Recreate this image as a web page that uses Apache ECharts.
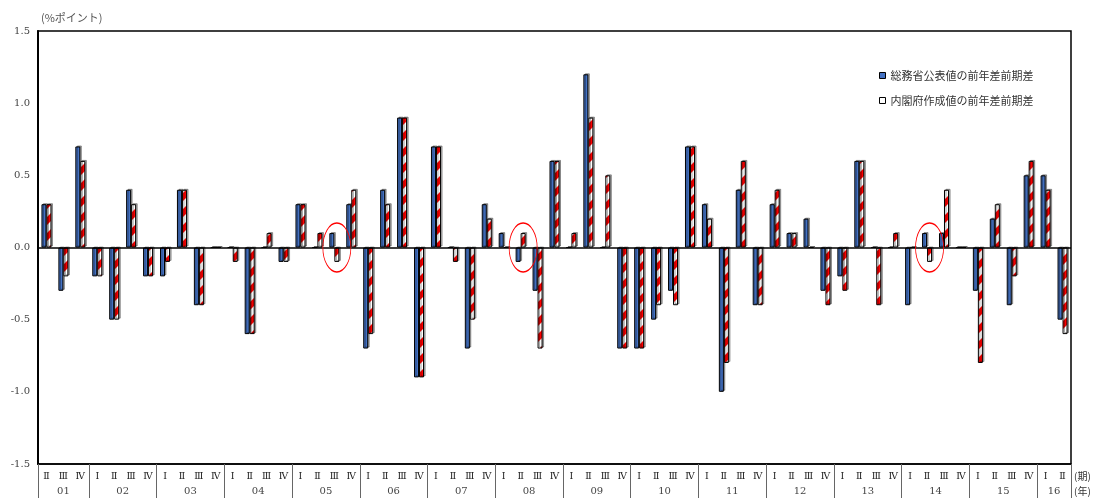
<!DOCTYPE html>
<html>
<head>
<meta charset="utf-8">
<script src="https://cdn.jsdelivr.net/npm/echarts@6/dist/echarts.min.js"></script>
<style>
  html, body { margin: 0; padding: 0; background: #fff; }
  #chart { width: 1094px; height: 498px; }
</style>
</head>
<body>
<div id="chart"></div>
<script>
// Years shown on the lower axis row and the quarters they contain
const years = ['01','02','03','04','05','06','07','08','09','10','11','12','13','14','15','16'];
const fullYearQuarters = ['Ⅰ','Ⅱ','Ⅲ','Ⅳ'];
const firstYearQuarters = ['Ⅱ','Ⅲ','Ⅳ'];
const lastYearQuarters = ['Ⅰ','Ⅱ'];

// 総務省公表値の前年差前期差 (%ポイント), 2001Ⅱ – 2016Ⅱ
const officialDiff = [
  0.3, -0.3, 0.7,
  -0.2, -0.5, 0.4, -0.2,
  -0.2, 0.4, -0.4, 0,
  0, -0.6, 0, -0.1,
  0.3, 0, 0.1, 0.3,
  -0.7, 0.4, 0.9, -0.9,
  0.7, 0, -0.7, 0.3,
  0.1, -0.1, -0.3, 0.6,
  0, 1.2, 0, -0.7,
  -0.7, -0.5, -0.3, 0.7,
  0.3, -1.0, 0.4, -0.4,
  0.3, 0.1, 0.2, -0.3,
  -0.2, 0.6, 0, 0,
  -0.4, 0.1, 0.1, 0,
  -0.3, 0.2, -0.4, 0.5,
  0.5, -0.5
];

// 内閣府作成値の前年差前期差 (%ポイント), 2001Ⅱ – 2016Ⅱ
const cabinetDiff = [
  0.3, -0.2, 0.6,
  -0.2, -0.5, 0.3, -0.2,
  -0.1, 0.4, -0.4, 0,
  -0.1, -0.6, 0.1, -0.1,
  0.3, 0.1, -0.1, 0.4,
  -0.6, 0.3, 0.9, -0.9,
  0.7, -0.1, -0.5, 0.2,
  0, 0.1, -0.7, 0.6,
  0.1, 0.9, 0.5, -0.7,
  -0.7, -0.4, -0.4, 0.7,
  0.2, -0.8, 0.6, -0.4,
  0.4, 0.1, 0, -0.4,
  -0.3, 0.6, -0.4, 0.1,
  0, -0.1, 0.4, 0,
  -0.8, 0.3, -0.2, 0.6,
  0.4, -0.6
];

// Quarters where the two series move in opposite directions
const circledQuarters = ['05Ⅲ', '08Ⅱ', '14Ⅱ'];

const seriesNames = ['総務省公表値の前年差前期差', '内閣府作成値の前年差前期差'];
const yTicks = { min: -1.5, max: 1.5, step: 0.5 };

// Category keys (year + quarter) and the year layout of the lower axis row
const quarterKeys = [];
const quarterText = [];
const yearBounds = [0];
const yearCenters = [];
years.forEach((y, i) => {
  const qs = i === 0 ? firstYearQuarters : (i === years.length - 1 ? lastYearQuarters : fullYearQuarters);
  qs.forEach(q => { quarterKeys.push(y + q); quarterText.push(q); });
  const start = yearBounds[yearBounds.length - 1];
  yearBounds.push(start + qs.length);
  yearCenters.push(start + qs.length / 2);
});
const quarterCount = quarterKeys.length;

// Diagonal red-and-white stripe fill
function stripeCanvas() {
  const s = 16;
  const c = document.createElement('canvas');
  c.width = s; c.height = s;
  const g = c.getContext('2d');
  g.fillStyle = '#ffffff';
  g.fillRect(0, 0, s, s);
  g.fillStyle = '#ff0000';
  for (let k = -1; k <= 1; k++) {
    g.beginPath();
    g.moveTo(0, s * k + s);
    g.lineTo(s, s * k);
    g.lineTo(s, s * k - s / 2);
    g.lineTo(0, s * k + s / 2);
    g.closePath();
    g.fill();
  }
  return c;
}

const serifNum = 'DejaVu Serif, Liberation Serif, serif';
const jpFont = 'Noto Sans CJK JP, sans-serif';

const chart = echarts.init(document.getElementById('chart'), null, { renderer: 'canvas' });

const ellipsePath = 'path://M0,-1 C0.552,-1 1,-0.552 1,0 C1,0.552 0.552,1 0,1 C-0.552,1 -1,0.552 -1,0 C-1,-0.552 -0.552,-1 0,-1 Z';

chart.setOption({
  animation: false,
  backgroundColor: '#ffffff',
  grid: {
    left: 38, right: 23, top: 31, bottom: 34,
    show: true, borderColor: '#000', borderWidth: 1.5, backgroundColor: 'transparent'
  },
  legend: {
    orient: 'vertical',
    left: 874, top: 65,
    itemWidth: 6, itemHeight: 6, itemGap: 14,
    textStyle: { fontFamily: jpFont, fontSize: 11, color: '#333' },
    data: [
      { name: seriesNames[0], icon: 'rect', itemStyle: { color: '#4472c4', borderColor: '#000', borderWidth: 1 } },
      { name: seriesNames[1], icon: 'rect', itemStyle: { color: '#ffffff', borderColor: '#000', borderWidth: 1 } }
    ]
  },
  xAxis: [
    {
      type: 'category',
      position: 'bottom',
      data: quarterKeys,
      boundaryGap: true,
      axisLine: { onZero: false, lineStyle: { color: '#000', width: 1.5 } },
      axisTick: { show: false },
      axisLabel: {
        interval: 0, margin: 8,
        formatter: (v, i) => quarterText[i],
        fontFamily: serifNum, fontSize: 9.5, color: '#222'
      },
      name: '(期)', nameLocation: 'end', nameGap: 3,
      nameTextStyle: { fontFamily: jpFont, fontSize: 10, color: '#333', verticalAlign: 'top', padding: [7, 0, 0, 0] }
    },
    {
      type: 'value',
      position: 'bottom',
      min: 0, max: quarterCount,
      axisLine: { show: false, onZero: false },
      splitLine: { show: false },
      axisTick: {
        show: true, inside: false, length: 34,
        customValues: yearBounds,
        lineStyle: { color: '#666', width: 1 }
      },
      axisLabel: {
        margin: 22,
        customValues: yearCenters,
        formatter: v => { const i = yearCenters.indexOf(v); return i >= 0 ? years[i] : ''; },
        fontFamily: serifNum, fontSize: 10, color: '#444'
      },
      name: '(年)', nameLocation: 'end', nameGap: 3,
      nameTextStyle: { fontFamily: jpFont, fontSize: 10, color: '#333', verticalAlign: 'top', padding: [22, 0, 0, 0] }
    }
  ],
  yAxis: {
    type: 'value',
    min: yTicks.min, max: yTicks.max, interval: yTicks.step,
    axisLine: { show: true, lineStyle: { color: '#000', width: 2 } },
    axisTick: { show: false },
    splitLine: { show: false },
    axisLabel: {
      margin: 8,
      formatter: v => v.toFixed(1),
      fontFamily: serifNum, fontSize: 10, color: '#444'
    },
    name: '(%ポイント)', nameLocation: 'end', nameGap: 8,
    nameTextStyle: { fontFamily: jpFont, fontSize: 11, color: '#555', align: 'left', padding: [0, 0, 0, 3] }
  },
  series: [
    {
      name: seriesNames[0],
      type: 'bar',
      data: officialDiff,
      barWidth: 5,
      barGap: '0%',
      itemStyle: {
        color: '#4472c4', borderColor: '#000', borderWidth: 1,
        shadowColor: 'rgba(0,0,0,0.35)', shadowOffsetX: 1.5, shadowOffsetY: -1, shadowBlur: 0
      },
      markLine: {
        silent: true, symbol: 'none',
        label: { show: false },
        lineStyle: { color: '#000', width: 1.5, type: 'solid' },
        data: [{ yAxis: 0 }]
      }
    },
    {
      name: seriesNames[1],
      type: 'bar',
      data: cabinetDiff,
      barWidth: 5,
      itemStyle: {
        color: { image: stripeCanvas(), repeat: 'repeat' },
        borderColor: '#000', borderWidth: 1,
        shadowColor: 'rgba(0,0,0,0.35)', shadowOffsetX: 1.5, shadowOffsetY: -1, shadowBlur: 0
      },
      markPoint: {
        silent: true,
        symbol: ellipsePath,
        symbolSize: [28, 49],
        symbolKeepAspect: false,
        label: { show: false },
        itemStyle: { color: 'transparent', borderColor: '#ff0000', borderWidth: 1 },
        data: circledQuarters.map(k => ({ coord: [k, 0] }))
      }
    }
  ]
});
</script>
</body>
</html>
